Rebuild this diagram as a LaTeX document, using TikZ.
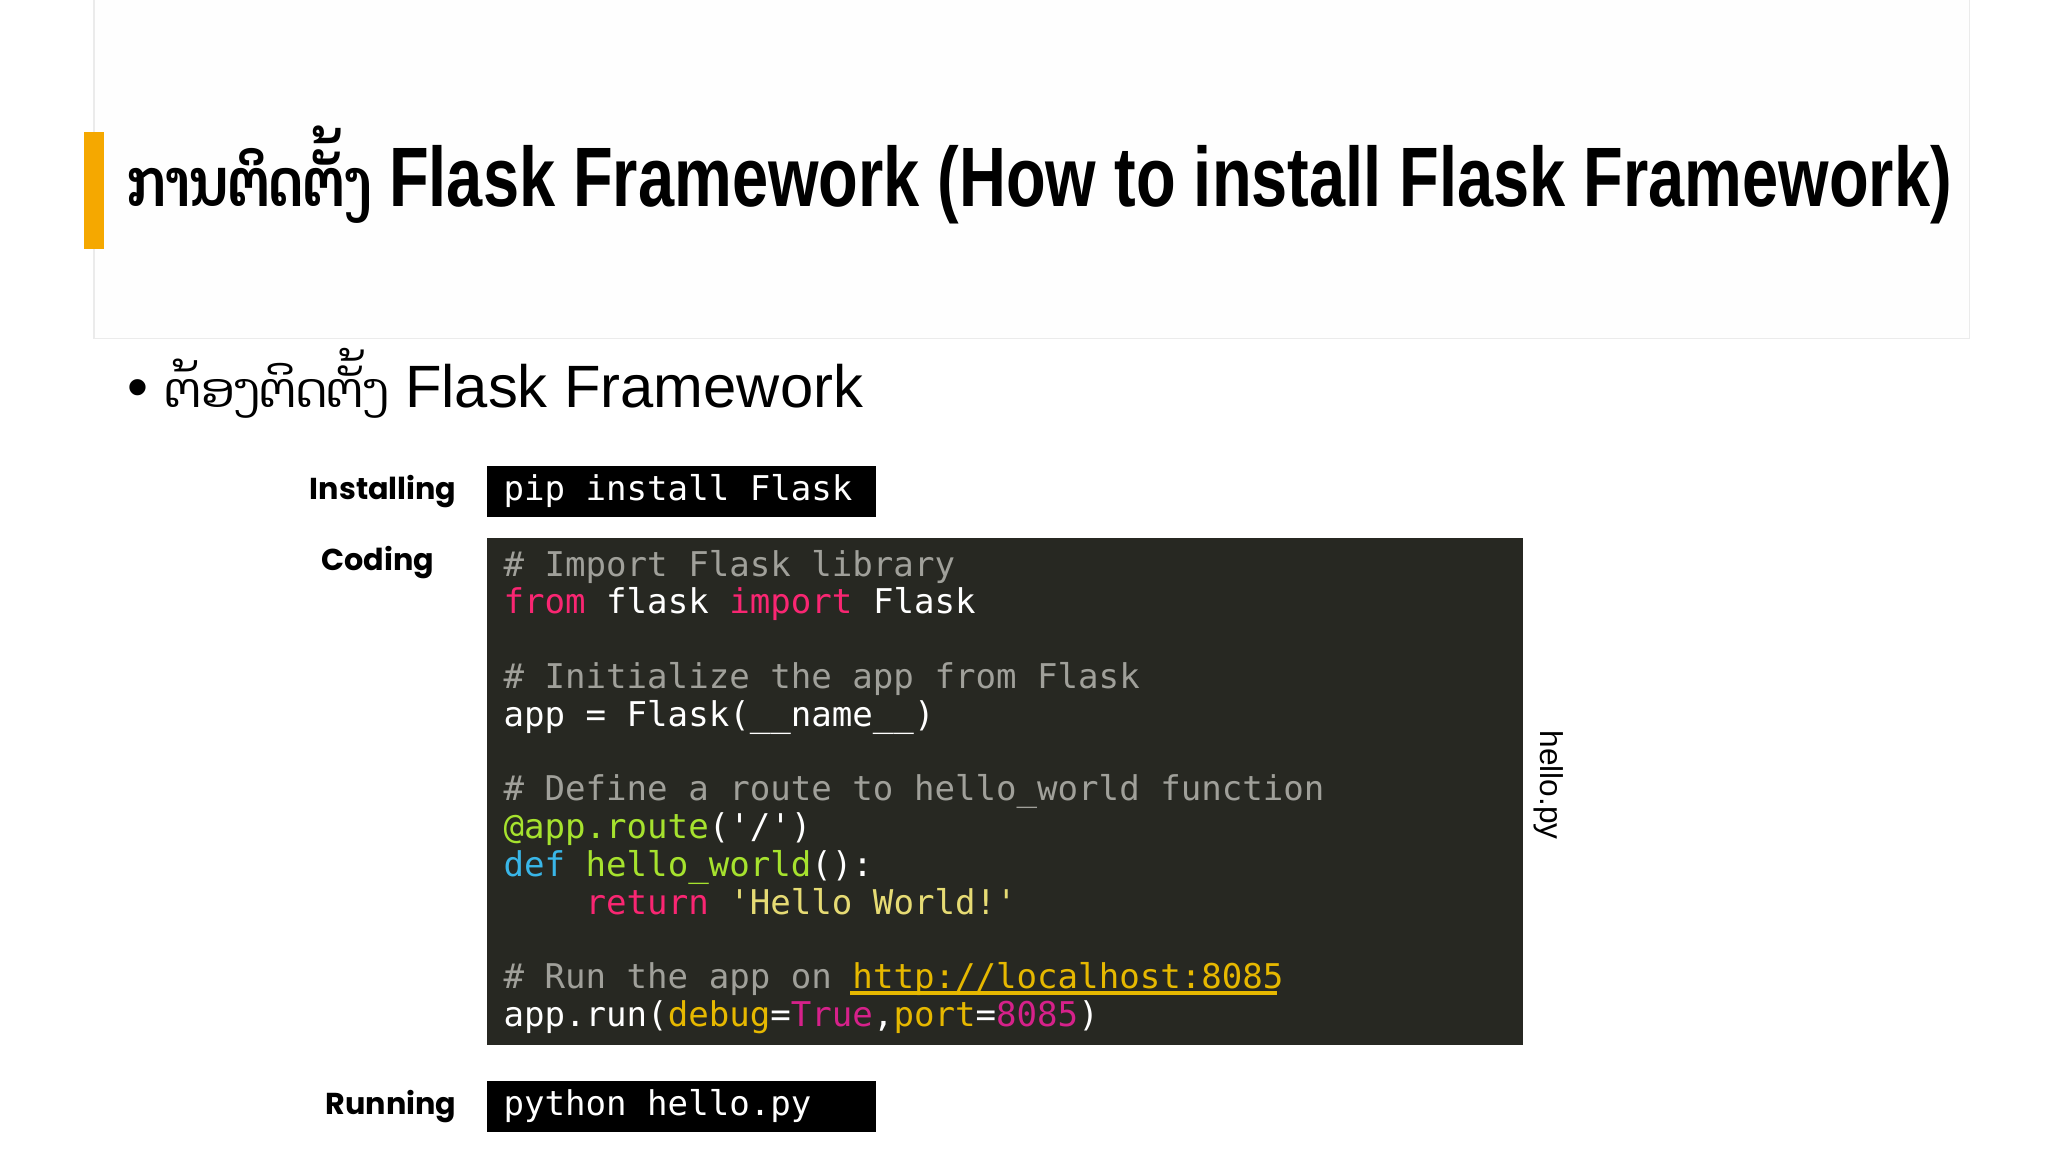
\documentclass[tikz,border=0pt]{standalone}
\usepackage{fontspec}
\setmainfont{Liberation Sans}
\setmonofont{DejaVu Sans Mono}
\newfontfamily\laofont[Script=Lao]{Dhyana}
\newfontfamily\labelfont{Poppins}
\usetikzlibrary{positioning, calc}

\definecolor{barorange}{HTML}{F5A800}
\definecolor{codebg}{HTML}{272822}
\definecolor{cmt}{HTML}{A0A09A}
\definecolor{kwpink}{HTML}{F92672}
\definecolor{kwgreen}{HTML}{A6E22E}
\definecolor{kwblue}{HTML}{39B6E8}
\definecolor{kwyellow}{HTML}{E6DB74}
\definecolor{kwgold}{HTML}{E6B800}
\definecolor{kwmag}{HTML}{D6218A}

\tikzset{
  cmdbox/.style={fill=black, anchor=north west, minimum width=3.89cm,
    minimum height=0.51cm, inner sep=0pt},
  cmdtext/.style={anchor=west, inner sep=0pt, text=white,
    font=\ttfamily\fontsize{9.7}{11}\selectfont},
  steplabel/.style={font=\labelfont\bfseries\fontsize{8.6}{10}\selectfont,
    anchor=east, inner sep=0pt},
  codeline/.style={anchor=base west, inner sep=0pt, text=white,
    font=\ttfamily\fontsize{9.7}{11}\selectfont}
}

\begin{document}
\begin{tikzpicture}[x=0.01306cm, y=-0.01306cm]
  % page
  \useasboundingbox (0,0) rectangle (1568,882);
  \fill[white] (0,0) rectangle (1568,882);

  % title band
  \draw[black!8, fill=black!0.5] (72,-5) rectangle (1508,259);
  \fill[barorange] (64,101) rectangle (80,191);
  \node[anchor=base west, inner sep=0pt, xscale=0.77, font=\bfseries\fontsize{24}{26}\selectfont]
    (title) at (97,158) {{\laofont\fontsize{19}{21}\selectfont ການຕິດຕັ້ງ} Flask Framework (How to install Flask Framework)};

  % bullet
  \node[anchor=base west, inner sep=0pt, font=\fontsize{17}{19}\selectfont]
    (bullet) at (97,312) {• {\laofont\fontsize{13.7}{15}\selectfont ຕ້ອງຕິດຕັ້ງ} Flask Framework};

  % step labels
  \node[steplabel] (install) at (350,376) {Installing};
  \node[steplabel] (coding) at (333,431) {Coding};
  \node[steplabel] (running) at (350,847) {Running};

  % command boxes
  \node[cmdbox] (pip) at (372,356) {};
  \node[cmdtext] (piptext) at (385,376) {pip install Flask};
  \node[cmdbox] (run) at (372,827) {};
  \node[cmdtext] (runtext) at (385,847) {python hello.py};

  % code box
  \fill[codebg] (373,412) rectangle (1166,800);
  \node[codeline] (l1) at (385,441) {\textcolor{cmt}{\# Import Flask library}};
  \node[codeline] (l2) at (385,470) {\textcolor{kwpink}{from} flask \textcolor{kwpink}{import} Flask};
  \node[codeline] (l3) at (385,527) {\textcolor{cmt}{\# Initialize the app from Flask}};
  \node[codeline] (l4) at (385,556) {app = Flask(\_\_name\_\_)};
  \node[codeline] (l5) at (385,613) {\textcolor{cmt}{\# Define a route to hello\_world function}};
  \node[codeline] (l6) at (385,642) {\textcolor{kwgreen}{@app.route}('/')};
  \node[codeline] (l7) at (385,671) {\textcolor{kwblue}{def} \textcolor{kwgreen}{hello\_world}():};
  \node[codeline] (l8) at (385,700) {\ \ \ \ \textcolor{kwpink}{return} \textcolor{kwyellow}{'Hello World!'}};
  \node[codeline] (l9) at (385,757) {\textcolor{cmt}{\# Run the app on} \textcolor{kwgold}{http://localhost:8085}};
  \node[codeline] (l10) at (385,786) {app.run(\textcolor{kwgold}{debug}=\textcolor{kwmag}{True},\textcolor{kwgold}{port}=\textcolor{kwmag}{8085})};
  \draw[kwgold, line width=1.2pt] (651,760) -- (978,760);

  % file name
  \node[rotate=-90, font=\fontsize{9}{11}\selectfont] (fname) at (1186,601) {hello.py};
\end{tikzpicture}
\end{document}
